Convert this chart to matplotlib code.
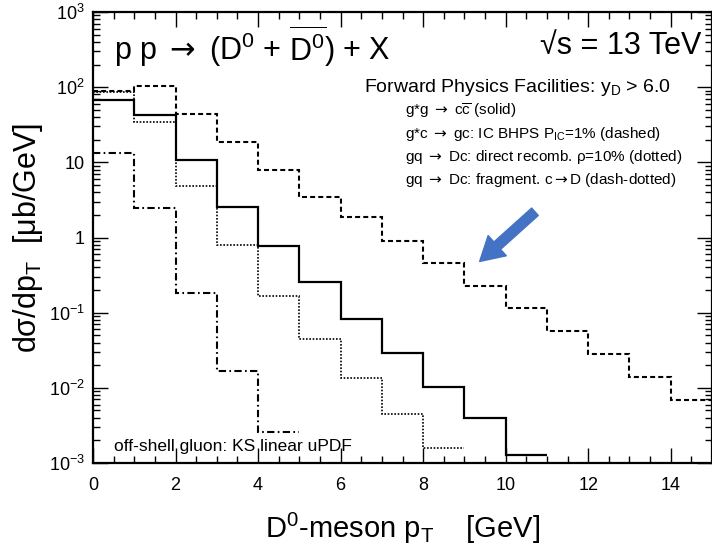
import numpy as np
import matplotlib
matplotlib.use("Agg")
import matplotlib.pyplot as plt
from matplotlib.ticker import FixedLocator, FixedFormatter, MultipleLocator

plt.rcParams['font.family'] = ['Liberation Sans', 'DejaVu Sans']
plt.rcParams['mathtext.fontset'] = 'custom'
plt.rcParams['mathtext.rm'] = 'Liberation Sans'
plt.rcParams['mathtext.it'] = 'Liberation Sans:italic'
plt.rcParams['mathtext.bf'] = 'Liberation Sans:bold'
plt.rcParams['mathtext.sf'] = 'DejaVu Sans'

# bin edges (GeV) and dsigma/dpT values (mub/GeV), one bin per GeV
edges = np.arange(0, 16)
solid_vals = [67, 42, 10.6, 2.57, 0.76, 0.257, 0.0815, 0.0287, 0.0103, 0.0040, 0.00128]
dashed_vals = [90, 104, 44.6, 18.5, 7.8, 3.49, 1.87, 0.90, 0.455, 0.229, 0.114,
               0.057, 0.0278, 0.01415, 0.0069]
dotted_vals = [86, 34.4, 4.89, 0.80, 0.169, 0.044, 0.0137, 0.00446, 0.00157]
dashdot_vals = [13.3, 2.49, 0.185, 0.0169, 0.00259]

ytick_vals = [1e-3, 1e-2, 1e-1, 1, 10, 1e2, 1e3]
ytick_labels = ['$10^{-3}$', '$10^{-2}$', '$10^{-1}$', '1', '10', '$10^{2}$', '$10^{3}$']

ARR = r' $\mathsf{\rightarrow}$ '
legend_lines = [
    'g*g' + ARR + r'c$\overline{\mathrm{c}}$ (solid)',
    'g*c' + ARR + r'gc: IC BHPS P$_{\mathrm{IC}}$=1% (dashed)',
    'gq' + ARR + 'Dc: direct recomb. ρ=10% (dotted)',
    'gq' + ARR + r'Dc: fragment. c$\mathsf{\rightarrow}$D (dash-dotted)',
]

W, H = 712, 553
fig = plt.figure(figsize=(W / 100, H / 100), dpi=100)
ax = fig.add_axes([93 / W, 90 / H, (W - 93) / W, (463 - 12) / H])

def px(x, y):
    return x / W, 1 - y / H

ax.stairs(solid_vals, edges[:len(solid_vals) + 1], baseline=None, color='black', lw=1.6)
ax.stairs(dashed_vals, edges[:len(dashed_vals) + 1], baseline=None, color='black', lw=1.5,
          linestyle=(0, (2.4, 1.5)))
ax.stairs(dotted_vals, edges[:len(dotted_vals) + 1], baseline=None, color='black', lw=1.2,
          linestyle=(0, (1, 1)))
ax.stairs(dashdot_vals, edges[:len(dashdot_vals) + 1], baseline=None, color='black', lw=1.5,
          linestyle=(0, (3.5, 1.6, 0.8, 1.6)))

ax.set_yscale('log')
ax.set_xlim(0, 15)
ax.set_ylim(1e-3, 1e3)

ax.xaxis.set_major_locator(MultipleLocator(2))
ax.xaxis.set_minor_locator(MultipleLocator(0.5))
ax.yaxis.set_major_locator(FixedLocator(ytick_vals))
ax.yaxis.set_major_formatter(FixedFormatter(ytick_labels))
ax.tick_params(which='both', direction='in', top=True, right=True, width=1.0, labelsize=13)
ax.tick_params(which='major', length=11)
ax.tick_params(which='minor', length=5)
ax.tick_params(axis='x', pad=10)
ax.tick_params(axis='y', pad=6)
for s in ax.spines.values():
    s.set_linewidth(1.6)

ax.set_xlabel(r'D$^{0}$-meson p$_{\mathrm{T}}$    [GeV]', fontsize=21)
ax.xaxis.set_label_coords(0.5, -0.105)
ax.set_ylabel(r'dσ/dp$_{\mathrm{T}}$  [μb/GeV]', fontsize=22)
ax.yaxis.set_label_coords(-0.078, 0.5)

fig.text(*px(114, 46), r'p p $\mathsf{\rightarrow}$ (D$^{0}$ + $\overline{\mathrm{D}^{0}}$) + X',
         fontsize=22, va='center', ha='left')
fig.text(*px(701, 46), '√s = 13 TeV', fontsize=22, va='center', ha='right')
fig.text(*px(364, 88), r'Forward Physics Facilities: y$_{\mathrm{D}}$ > 6.0',
         fontsize=14, va='center', ha='left')
for i, line in enumerate(legend_lines):
    fig.text(*px(405, 111 + 23 * i), line, fontsize=11, va='center', ha='left')
fig.text(*px(114, 447), 'off-shell gluon: KS linear uPDF', fontsize=12.5, va='center', ha='left')

ax.annotate('', xy=(9.37, 0.48), xytext=(10.71, 2.2),
            arrowprops=dict(arrowstyle='simple,head_length=1.0,head_width=1.15,tail_width=0.42',
                            color='#4472c4', shrinkA=0, shrinkB=0, mutation_scale=17))

fig.savefig('out.png', dpi=100)
